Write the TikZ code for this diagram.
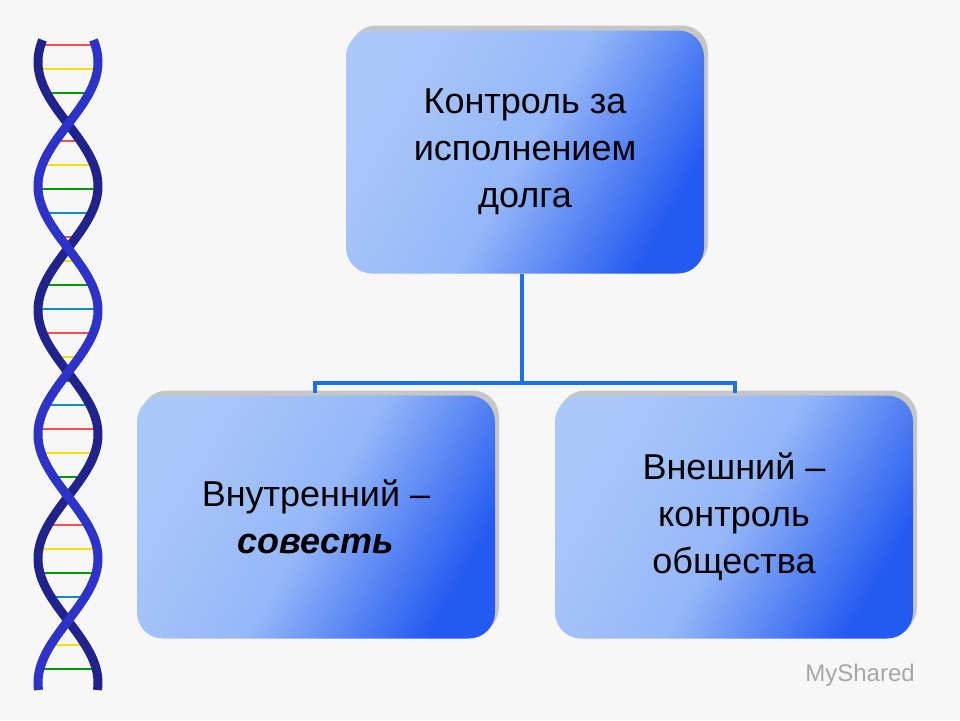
\documentclass[tikz,border=0pt]{standalone}
\usepackage{fontspec}
\setmainfont{Liberation Sans}
\begin{document}
\begin{tikzpicture}[x=1pt,y=-1pt,
  box/.style={rounded corners=26pt, left color=boxlight, right color=boxdark, middle color=boxlight!85!boxdark, shading angle=60, draw=none,
    minimum width=358pt, minimum height=243pt, align=center, font=\fontsize{36}{47}\selectfont, text=black},
  shadowbox/.style={rounded corners=26pt, fill=gray!45, minimum width=358pt, minimum height=243pt},
  conn/.style={draw=connblue, line width=4pt}]
\definecolor{boxlight}{RGB}{170,200,250}
\definecolor{boxdark}{RGB}{35,90,240}
\definecolor{connblue}{RGB}{30,110,230}
\definecolor{helix}{RGB}{45,50,200}
\fill[gray!6] (0,0) rectangle (960,720);
\useasboundingbox (0,0) rectangle (960,720);
% DNA helix
\foreach \i in {0,...,26}{
  \pgfmathsetmacro{\yy}{45+\i*24}
  \pgfmathsetmacro{\xa}{68+30*sin(\yy*1.45)}
  \pgfmathsetmacro{\xb}{68-30*sin(\yy*1.45)}
  \pgfmathtruncatemacro{\c}{mod(\i,4)}
  \ifcase\c \def\cc{red!70}\or\def\cc{yellow!80!orange}\or\def\cc{green!60!black}\else\def\cc{cyan!70!blue}\fi
  \draw[\cc, line width=2.5pt] (\xa,\yy) -- (\xb,\yy);
}
\draw[helix!70!black, line width=9pt, domain=40:690, samples=120, smooth, variable=\t] plot ({68-30*sin(\t*1.45)},\t);
\draw[helix, line width=9pt, domain=40:690, samples=120, smooth, variable=\t] plot ({68+30*sin(\t*1.45)},\t);
% shadows
\node[shadowbox] at (529,147) {};
\node[shadowbox] at (320,512) {};
\node[shadowbox] at (738,512) {};
% boxes
\node[box] (top) at (525,152) {Контроль за\\исполнением\\долга};
\node[box] (left) at (316,517) {Внутренний –\\\textbf{\textit{совесть}}};
\node[box] (right) at (734,517) {Внешний –\\контроль\\общества};
% connectors
\coordinate (j) at (522,383);
\coordinate (l) at (315,383);
\coordinate (r) at (735,383);
\draw[conn] (top.south -| j) -- (j);
\draw[conn, line cap=rect] (l) -- (r);
\draw[conn] (l) -- ++(0,10);
\draw[conn] (r) -- ++(0,10);
% watermark
\node[text=gray!70, font=\fontsize{24}{28}\selectfont] (wm) at (860,675) {MyShared};
\end{tikzpicture}
\end{document}
